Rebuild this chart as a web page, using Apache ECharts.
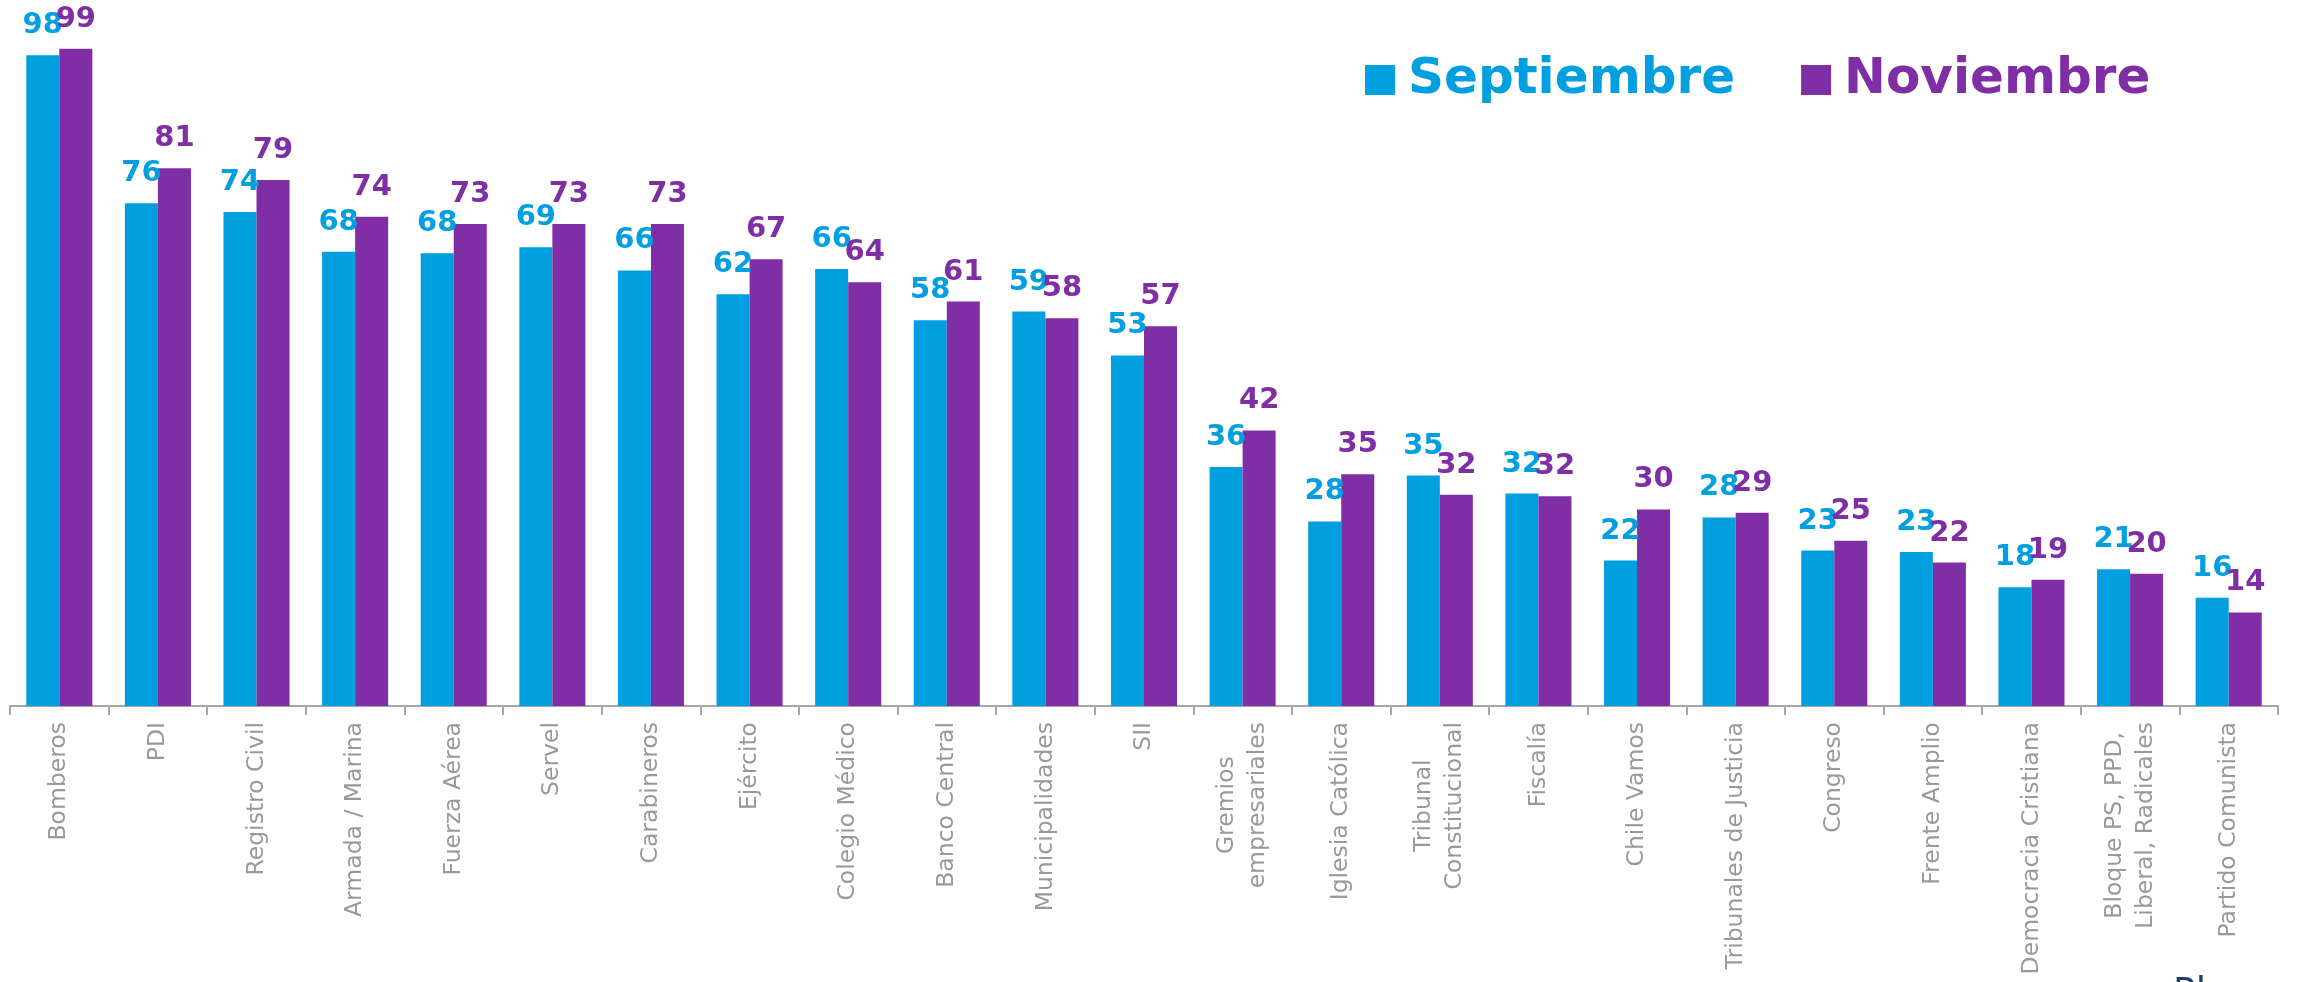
<!DOCTYPE html>
<html>
<head>
<meta charset="utf-8">
<script src="https://cdn.jsdelivr.net/npm/echarts@6/dist/echarts.min.js"></script>
<style>
  html, body { margin: 0; padding: 0; background: #fff; }
  #main { width: 2297px; height: 982px; }
</style>
</head>
<body>
<div id="main"></div>
<script>
var categories = ['Bomberos', 'PDI', 'Registro Civil', 'Armada / Marina', 'Fuerza Aérea', 'Servel',
  'Carabineros', 'Ejército', 'Colegio Médico', 'Banco Central', 'Municipalidades', 'SII',
  'Gremios\nempresariales', 'Iglesia Católica', 'Tribunal\nConstitucional', 'Fiscalía', 'Chile Vamos',
  'Tribunales de Justicia', 'Congreso', 'Frente Amplio', 'Democracia Cristiana',
  'Bloque PS, PPD,\nLiberal, Radicales', 'Partido Comunista'];
var septiembre = [98.0, 75.7, 74.4, 68.4, 68.2, 69.1, 65.6, 62.0, 65.8, 58.1, 59.4, 52.8,
  36.0, 27.8, 34.7, 32.0, 21.9, 28.4, 23.4, 23.2, 17.9, 20.6, 16.3];
var noviembre = [99.0, 81.0, 79.2, 73.7, 72.6, 72.6, 72.6, 67.3, 63.8, 60.9, 58.4, 57.2,
  41.5, 34.9, 31.8, 31.6, 29.6, 29.1, 24.9, 21.6, 19.0, 19.9, 14.1];

var blue = '#009fe0';
var purple = '#802ea5';
var labelFont = 'DejaVu Sans';

function valueLabel(color) {
  return {
    show: true,
    position: 'top',
    distance: 15,
    color: color,
    fontFamily: labelFont,
    fontWeight: 'bold',
    fontSize: 29,
    formatter: function (p) { return Math.round(p.value); }
  };
}

var myChart = echarts.init(document.getElementById('main'));
var option = {
  animation: false,
  backgroundColor: '#fff',
  legend: {
    left: 1360,
    top: 50,
    itemWidth: 30,
    itemHeight: 30,
    itemGap: 66,
    icon: 'rect',
    data: ['Septiembre', 'Noviembre'],
    textStyle: {
      fontFamily: labelFont,
      fontWeight: 'bold',
      fontSize: 50,
      padding: [0, 0, 0, 8],
      color: 'inherit'
    }
  },
  grid: {
    left: 10,
    right: 19,
    top: 42,
    bottom: 276,
    containLabel: false
  },
  xAxis: {
    type: 'category',
    data: categories,
    axisLine: { lineStyle: { color: '#a6a6a6', width: 2 } },
    axisTick: { show: true, length: 9, lineStyle: { color: '#a6a6a6', width: 2 } },
    axisLabel: {
      rotate: 90,
      interval: 0,
      margin: 16,
      color: '#999999',
      fontFamily: labelFont,
      fontSize: 23.5,
      lineHeight: 31,
      formatter: function (v) {
        return v.split('\n').map(function (s) { return '{c|' + s + '}'; }).join('\n');
      },
      rich: {
        c: { align: 'center', color: '#999999', fontFamily: labelFont, fontSize: 23.5, lineHeight: 31 }
      }
    }
  },
  yAxis: {
    type: 'value',
    min: 0,
    max: 100,
    show: false,
    splitLine: { show: false }
  },
  series: [
    {
      name: 'Septiembre',
      type: 'bar',
      data: septiembre,
      barGap: '0%',
      barCategoryGap: '33%',
      itemStyle: { color: blue },
      label: valueLabel(blue)
    },
    {
      name: 'Noviembre',
      type: 'bar',
      data: noviembre,
      barGap: '0%',
      barCategoryGap: '33%',
      itemStyle: { color: purple },
      label: valueLabel(purple)
    }
  ],
  graphic: [{
    type: 'text',
    left: 2173,
    top: 974,
    style: {
      text: 'Plaza',
      fill: '#1f3b6e',
      font: '38px "Noto Sans"'
    }
  }]
};
myChart.setOption(option);
</script>
</body>
</html>
